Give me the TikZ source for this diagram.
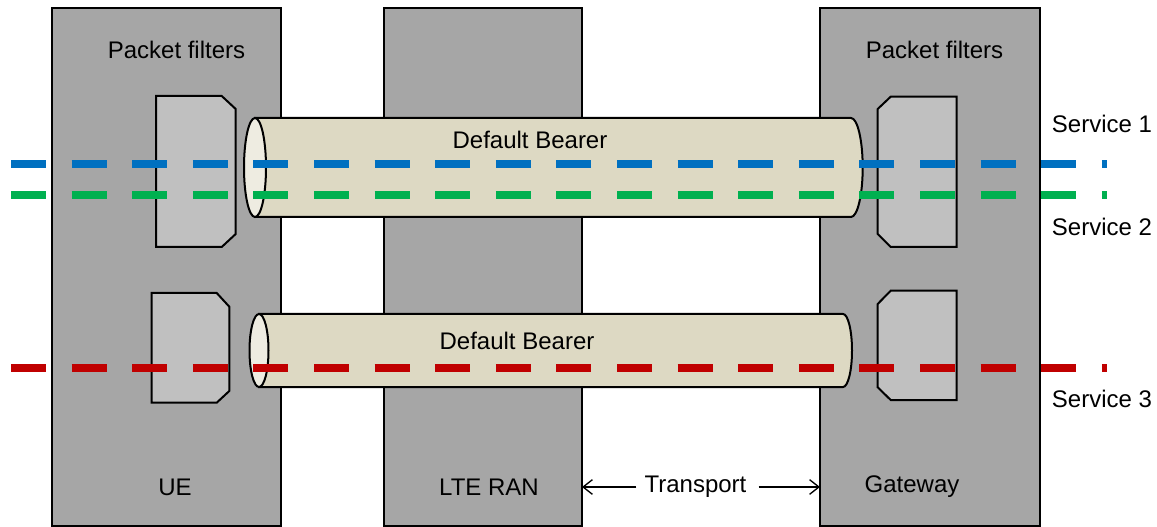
\documentclass[tikz,border=0pt]{standalone}
\usepackage{fontspec}
\setmainfont{Liberation Sans}
\usetikzlibrary{arrows.meta}
\definecolor{boxgray}{HTML}{A6A6A6}
\definecolor{filtergray}{HTML}{C0C0C0}
\definecolor{tube}{HTML}{DDD9C3}
\definecolor{tubeend}{HTML}{EEECE1}
\definecolor{sblue}{HTML}{0070C0}
\definecolor{sgreen}{HTML}{00B050}
\definecolor{sred}{HTML}{C00000}
\tikzset{
  box/.style={draw=black, fill=boxgray, line width=1.5pt, rectangle, outer sep=0pt, inner sep=0pt, minimum height=388.5pt},
  filterbox/.style={draw=black, fill=filtergray, line width=1.5pt, line join=miter},
  tubebody/.style={draw=black, fill=tube, line width=1.5pt},
  tubecap/.style={draw=black, fill=tubeend, line width=1.5pt},
  svc/.style={line width=6.4pt, dash pattern=on 26.25pt off 19.2pt, line cap=butt},
  lbl/.style={font=\fontsize{18pt}{21pt}\selectfont, text=black, inner sep=6pt},
  tarrow/.style={line width=1pt, -{Straight Barb[length=7pt,width=11pt,line width=1pt]}}
}
\begin{document}
\begin{tikzpicture}[x=0.75pt, y=-0.75pt]
\useasboundingbox (0,0) rectangle (1157,527);
\fill[white] (0,0) rectangle (1157,527);
% big boxes
\node[box, minimum width=171.75pt] (ue) at (166.5,267) {};
\node[box, minimum width=148.5pt] (ran) at (483,267) {};
\node[box, minimum width=165pt] (gw) at (930,267) {};
% packet filters left
\draw[filterbox] (156,96) -- (221.7,96) -- (235.7,109) -- (235.7,234) -- (221.7,247) -- (156,247) -- cycle;
\draw[filterbox] (151.7,293) -- (216.7,293) -- (229.3,306.7) -- (229.3,391) -- (216.7,402.7) -- (151.7,402.7) -- cycle;
% packet filters right
\draw[filterbox] (956.7,96.7) -- (890.7,96.7) -- (877.7,109) -- (877.7,234) -- (890.7,247) -- (956.7,247) -- cycle;
\draw[filterbox] (956.7,290.7) -- (890.7,290.7) -- (877.7,304) -- (877.7,387.3) -- (890.7,400) -- (956.7,400) -- cycle;
% bearer 1
\draw[tubebody] (255,118) -- (851,118) arc[start angle=-90, end angle=90, x radius=11.7, y radius=49.5] -- (255,217) -- cycle;
\draw[tubecap] (255,167.5) ellipse[x radius=11, y radius=49.5];
% bearer 2
\draw[tubebody] (259,314) -- (843,314) arc[start angle=-90, end angle=90, x radius=9, y radius=36.5] -- (259,387) -- cycle;
\draw[tubecap] (259,350.5) ellipse[x radius=9.5, y radius=36.5];
% service lines
\coordinate (s1a) at (11,164);
\coordinate (s1b) at (1107,164);
\coordinate (s2a) at (11,195);
\coordinate (s2b) at (1107,195);
\coordinate (s3a) at (11,368);
\coordinate (s3b) at (1107,368);
\draw[svc, draw=sblue] (s1a) -- (s1b);
\draw[svc, draw=sgreen] (s2a) -- (s2b);
\draw[svc, draw=sred] (s3a) -- (s3b);
% labels
\node[lbl] (pf1) at (176.5,50) {Packet filters};
\node[lbl] (pf2) at (934.5,50) {Packet filters};
\node[lbl] (db1) at (530,140) {Default Bearer};
\node[lbl] (db2) at (517,341) {Default Bearer};
\node[lbl] (sv1) at (1102,124) {Service 1};
\node[lbl] (sv2) at (1102,227) {Service 2};
\node[lbl] (sv3) at (1102,399) {Service 3};
\node[lbl] (uel) at (175,487) {UE};
\node[lbl] (ranl) at (489,487) {LTE RAN};
\node[lbl] (gwl) at (912,487) {Gateway};
\node[lbl] (tr) at (695.5,487) {Transport};
\draw[tarrow] (tr.west) -- (ran.east |- tr.west);
\draw[tarrow] ([xshift=3pt]tr.east) -- (gw.west |- tr.east);
\end{tikzpicture}
\end{document}
